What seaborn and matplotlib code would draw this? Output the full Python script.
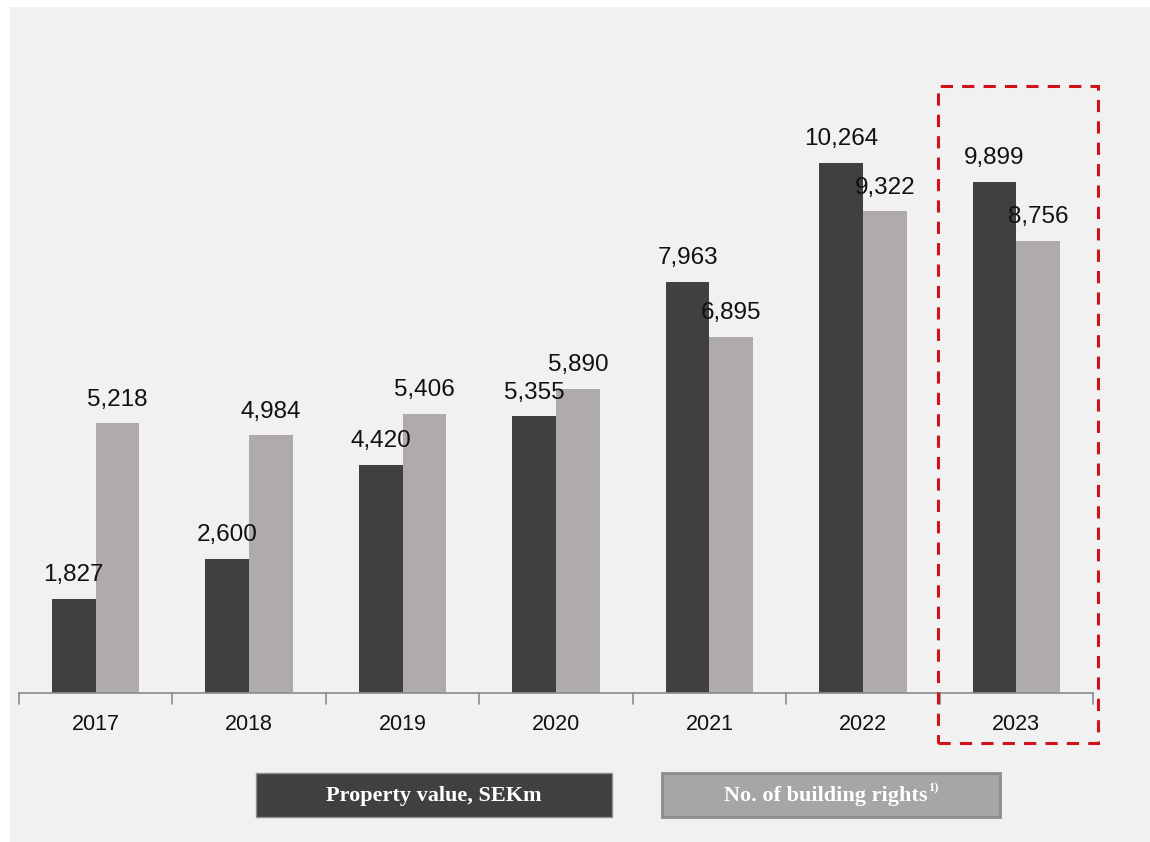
import matplotlib
matplotlib.use("Agg")
import matplotlib.pyplot as plt
import seaborn as sns
import pandas as pd
from matplotlib.patches import Rectangle
from matplotlib.text import Annotation

years = ["2017", "2018", "2019", "2020", "2021", "2022", "2023"]
property_value = [1827, 2600, 4420, 5355, 7963, 10264, 9899]
building_rights = [5218, 4984, 5406, 5890, 6895, 9322, 8756]
series_names = ["Property value, SEKm", "No. of building rights"]
footnote = "1)"

df = pd.DataFrame({
    "year": years * 2,
    "value": property_value + building_rights,
    "series": [series_names[0]] * len(years) + [series_names[1]] * len(years),
})

sns.set_theme(style="white")
plt.rcParams["font.family"] = ["Liberation Sans", "DejaVu Sans"]

W, H = 1150, 842
fig = plt.figure(figsize=(W / 100, H / 100), dpi=100)
fig.patch.set_facecolor("white")
# light panel
fig.patches.append(Rectangle((10 / W, 0), 1 - 10 / W, 1 - 7 / H, transform=fig.transFigure,
                             facecolor="#f1f1f1", edgecolor="none", zorder=-10))

ax = fig.add_axes([19 / W, 149 / H, (1093 - 19) / W, (693 - 73) / H])
ax.set_facecolor("none")

palette = {series_names[0]: "#404040", series_names[1]: "#afabaa"}
sns.barplot(data=df, x="year", y="value", hue="series", palette=palette,
            width=0.57, gap=0, saturation=1, ax=ax, legend=False, linewidth=0)

for cont in ax.containers:
    labels = [f"{v:,.0f}" for v in cont.datavalues]
    ax.bar_label(cont, labels=labels, padding=9, fontsize=17.5, color="#111111")

ax.set_xlim(-0.5, 6.5)
ax.set_ylim(0, 12000)
ax.set_xlabel("")
ax.set_ylabel("")
ax.set_yticks([])
for s in ["top", "right", "left"]:
    ax.spines[s].set_visible(False)
ax.spines["bottom"].set_color("#8c8c8c")
ax.spines["bottom"].set_linewidth(1.2)
ax.set_xticks([i for i in range(len(years))])
ax.set_xticklabels(years, fontsize=15.5, color="#111111")
ax.tick_params(axis="x", length=0, pad=15)
# boundary tick marks between categories
for b in [i - 0.5 for i in range(len(years) + 1)]:
    ax.plot([b, b], [0, -0.018], transform=ax.get_xaxis_transform(), color="#8c8c8c",
            lw=1.2, clip_on=False)

# red dashed highlight box around 2023
fig.patches.append(Rectangle((938 / W, 1 - 743 / H), (1098 - 938) / W, (743 - 86) / H,
                             transform=fig.transFigure, facecolor="none", edgecolor="#d0121b",
                             linestyle=(0, (4, 3)), linewidth=2.2, zorder=5))

serif = ["Liberation Serif", "DejaVu Serif"]
# legend boxes
fig.patches.append(Rectangle((256 / W, 1 - 817 / H), (612 - 256) / W, 44 / H,
                             transform=fig.transFigure, facecolor="#404040",
                             edgecolor="#8c8c8c", linewidth=1))
fig.text((256 + 612) / 2 / W, 1 - 796 / H, series_names[0], ha="center", va="center",
         color="white", fontsize=16, fontweight="bold", family=serif)
fig.patches.append(Rectangle((662 / W, 1 - 817 / H), (1000 - 662) / W, 44 / H,
                             transform=fig.transFigure, facecolor="#a6a6a6",
                             edgecolor="#8c8c8c", linewidth=2))
t2 = fig.text((662 + 1000) / 2 / W - 5 / W, 1 - 796 / H, series_names[1], ha="center", va="center",
              color="white", fontsize=16, fontweight="bold", family=serif)
ann = Annotation(footnote, xy=(1, 1), xycoords=t2, xytext=(0.5, 2.5), textcoords="offset points",
                 ha="left", va="top", color="white", fontsize=9, fontweight="bold",
                 family=serif, annotation_clip=False)
fig.add_artist(ann)

fig.savefig("out.png", dpi=100, facecolor=fig.get_facecolor())
